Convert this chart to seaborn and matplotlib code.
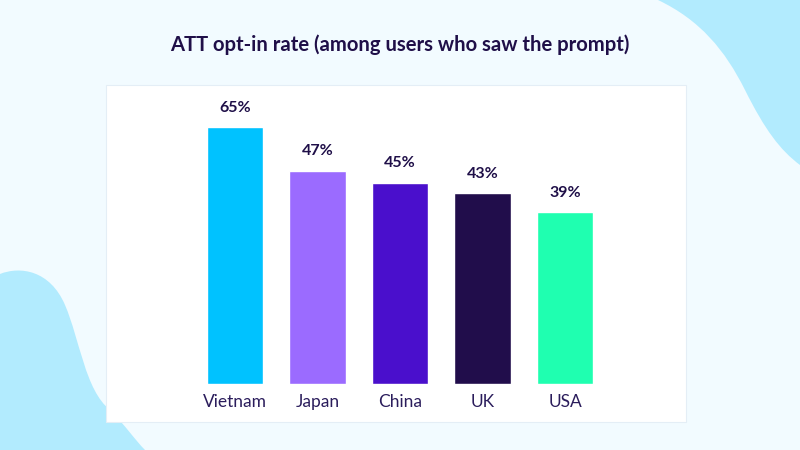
import matplotlib
matplotlib.use("Agg")
import matplotlib.pyplot as plt
import seaborn as sns
from matplotlib.path import Path
from matplotlib.patches import PathPatch, Rectangle

# ---------- data ----------
countries = ["Vietnam", "Japan", "China", "UK", "USA"]
opt_in_pct = [65, 47, 45, 43, 39]              # printed labels
# bar lengths as drawn in the source (not to scale with the labels)
bar_height = [65, 53.9, 50.9, 48.2, 43.5]
bar_colors = ["#00c2ff", "#9b6bff", "#4a0fcc", "#210d4b", "#1fffb0"]

TITLE = "ATT opt-in rate (among users who saw the prompt)"
INK = "#1f0f48"
BG = "#f2fbff"
BLOB = "#b2ebfe"

sns.set_style("white")
plt.rcParams["font.family"] = ["Lato", "DejaVu Sans"]

W, H = 800, 450
fig = plt.figure(figsize=(8, 4.5), dpi=100)
fig.patch.set_facecolor(BG)

# background decoration (pixel coords)
bg = fig.add_axes([0, 0, 1, 1], zorder=0)
bg.set_xlim(0, W)
bg.set_ylim(H, 0)
bg.axis("off")
C, L, M = Path.CURVE4, Path.LINETO, Path.MOVETO
tr = Path(
    [(658, 0), (700, 20), (725, 50), (745, 90), (765, 130), (780, 150), (800, 165), (800, 0), (658, 0)],
    [M, C, C, C, C, C, C, L, L],
)
bl = Path(
    [(0, 274), (20, 266), (50, 270), (65, 305), (80, 340), (85, 390), (110, 410),
     (125, 425), (135, 440), (145, 450), (0, 450), (0, 274)],
    [M, C, C, C, C, C, C, C, C, C, L, L],
)
bg.add_patch(PathPatch(tr, facecolor=BLOB, edgecolor="none"))
bg.add_patch(PathPatch(bl, facecolor=BLOB, edgecolor="none"))
# white card
bg.add_patch(Rectangle((106, 85), 580, 337, facecolor="white", edgecolor="#e4eef6", lw=0.8))

fig.text(0.5, 1 - 45 / H, TITLE, ha="center", va="center", fontsize=14.6,
         fontweight="bold", color=INK)

# ---------- bars ----------
ax_left = (235 - 82.5 / 2) / W
ax_w = 82.5 * 5 / W
ax_bottom = 1 - 384 / H
ax_h = (384 - 85) / H
ax = fig.add_axes([ax_left, ax_bottom, ax_w, ax_h], zorder=1)
ax.patch.set_alpha(0)

sns.barplot(x=countries, y=bar_height, hue=countries, palette=bar_colors,
            saturation=1, width=0.68, legend=False, ax=ax)
ax.set_xlim(-0.5, 4.5)
ax.set_ylim(0, 65 * 299 / 257)

for cont, v in zip(ax.containers, opt_in_pct):
    ax.bar_label(cont, labels=[f"{v}%"], padding=9, fontsize=11.5,
                 fontweight="bold", color=INK)

ax.set_yticks([])
ax.set_xlabel("")
ax.set_ylabel("")
ax.tick_params(axis="x", length=0, pad=7, labelsize=12.5, labelcolor="#2b1d5c")
sns.despine(ax=ax, left=True, bottom=True)

fig.savefig("out.png", dpi=100, facecolor=BG)
